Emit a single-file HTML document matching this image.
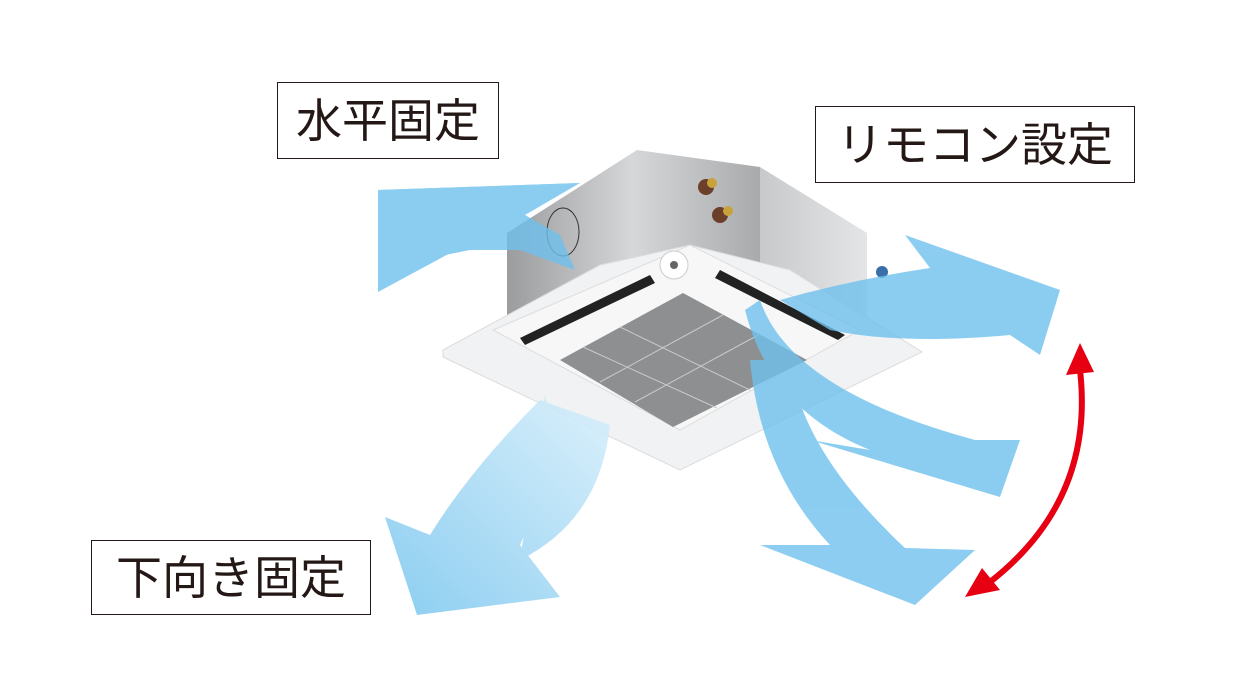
<!DOCTYPE html>
<html><head><meta charset="utf-8"><style>
html,body{margin:0;padding:0;background:#fff;}
.lbl{position:absolute;border:1.5px solid #231815;background:#fff;font-family:"Liberation Sans","Noto Sans CJK JP",sans-serif;color:#231815;font-size:46px;line-height:1;display:flex;align-items:center;justify-content:center;box-sizing:border-box;}
</style></head><body>
<div style="position:relative;width:1240px;height:698px;overflow:hidden;">
<svg width="1240" height="698" style="position:absolute;left:0;top:0">
<defs>
<linearGradient id="bx" x1="0" x2="1"><stop offset="0" stop-color="#9a9c9e"/><stop offset="0.5" stop-color="#d6d7d8"/><stop offset="1" stop-color="#a8aaac"/></linearGradient>
<linearGradient id="bx2" x1="0" x2="1"><stop offset="0" stop-color="#c8c9cb"/><stop offset="1" stop-color="#e4e5e6"/></linearGradient>
<linearGradient id="dl" x1="1" y1="0" x2="0" y2="1"><stop offset="0" stop-color="#d8effb"/><stop offset="1" stop-color="#7ec8ef"/></linearGradient>
</defs>
<!-- box -->
<polygon points="507,233 637,150 760,167 760,320 507,317" fill="url(#bx)"/>
<polygon points="760,167 867,233 867,320 760,320" fill="url(#bx2)"/>
<ellipse cx="563" cy="232" rx="16" ry="24" fill="none" stroke="#333" stroke-width="1"/>
<circle cx="706" cy="187" r="8" fill="#6b3f2a"/><circle cx="712" cy="183" r="5" fill="#c9a23c"/>
<circle cx="720" cy="215" r="8" fill="#6b3f2a"/><circle cx="728" cy="211" r="5" fill="#c9a23c"/>
<circle cx="882" cy="272" r="6" fill="#3a6ea8"/>
<!-- panel -->
<polygon points="443,350 600,265 690,245 790,270 922,352 680,470 443,357" fill="#f1f2f3" stroke="#dcdcdc"/>
<polygon points="493,330 690,245 860,330 680,430" fill="#f7f7f7" stroke="#ddd"/>
<polygon points="520,338 650,275 655,283 525,345" fill="#222"/>
<polygon points="720,270 845,335 838,340 715,278" fill="#222"/>
<circle cx="674" cy="265" r="14" fill="#fff" stroke="#ccc"/><circle cx="674" cy="265" r="4" fill="#666"/>
<polygon points="560,360 683,293 807,360 673,427" fill="#8d8f91"/>
<g stroke="#c9cacb" stroke-width="1">
<line x1="600" y1="382" x2="723" y2="315"/><line x1="635" y1="402" x2="760" y2="334"/><line x1="583" y1="347" x2="717" y2="408"/><line x1="620" y1="327" x2="750" y2="390"/>
</g>
<!-- arrows -->
<g fill="#6fc1ee" opacity="0.8">
<path d="M575,270 L520,250 L470,250 L430,258 L430,240 L378,190 L580,183 L525,215 L560,235 Z"/>
<path d="M378,190 L580,183 L378,292 Z"/>
<path d="M780,300 Q850,280 930,268 L905,235 L1060,290 L1040,355 L1010,335 Q900,345 830,330 Z"/>
<path d="M760,300 Q790,390 975,440 L1020,440 L1000,497 L810,440 L870,450 Q770,410 745,310 Z"/>
<path d="M750,360 Q760,470 830,545 L760,545 L915,605 L975,550 L905,548 Q800,450 790,360 Z"/>
</g>
<path d="M545,395 Q560,460 520,545 L560,597 L417,615 L385,517 L430,535 Q470,470 540,400 L610,425 Q600,520 520,560 Z" fill="url(#dl)" opacity="0.9"/>
<!-- red double arrow -->
<path d="M1080,370 Q1095,500 990,582" fill="none" stroke="#e60012" stroke-width="6"/>
<polygon points="1080,343 1066,375 1094,372" fill="#e60012"/>
<polygon points="965,597 982,568 1000,590" fill="#e60012"/>
</svg>
<div class="lbl" style="left:277px;top:82px;width:222px;height:77px;">水平固定</div>
<div class="lbl" style="left:815px;top:106px;width:320px;height:77px;">リモコン設定</div>
<div class="lbl" style="left:91px;top:540px;width:280px;height:75px;">下向き固定</div>
</div>
</body></html>
